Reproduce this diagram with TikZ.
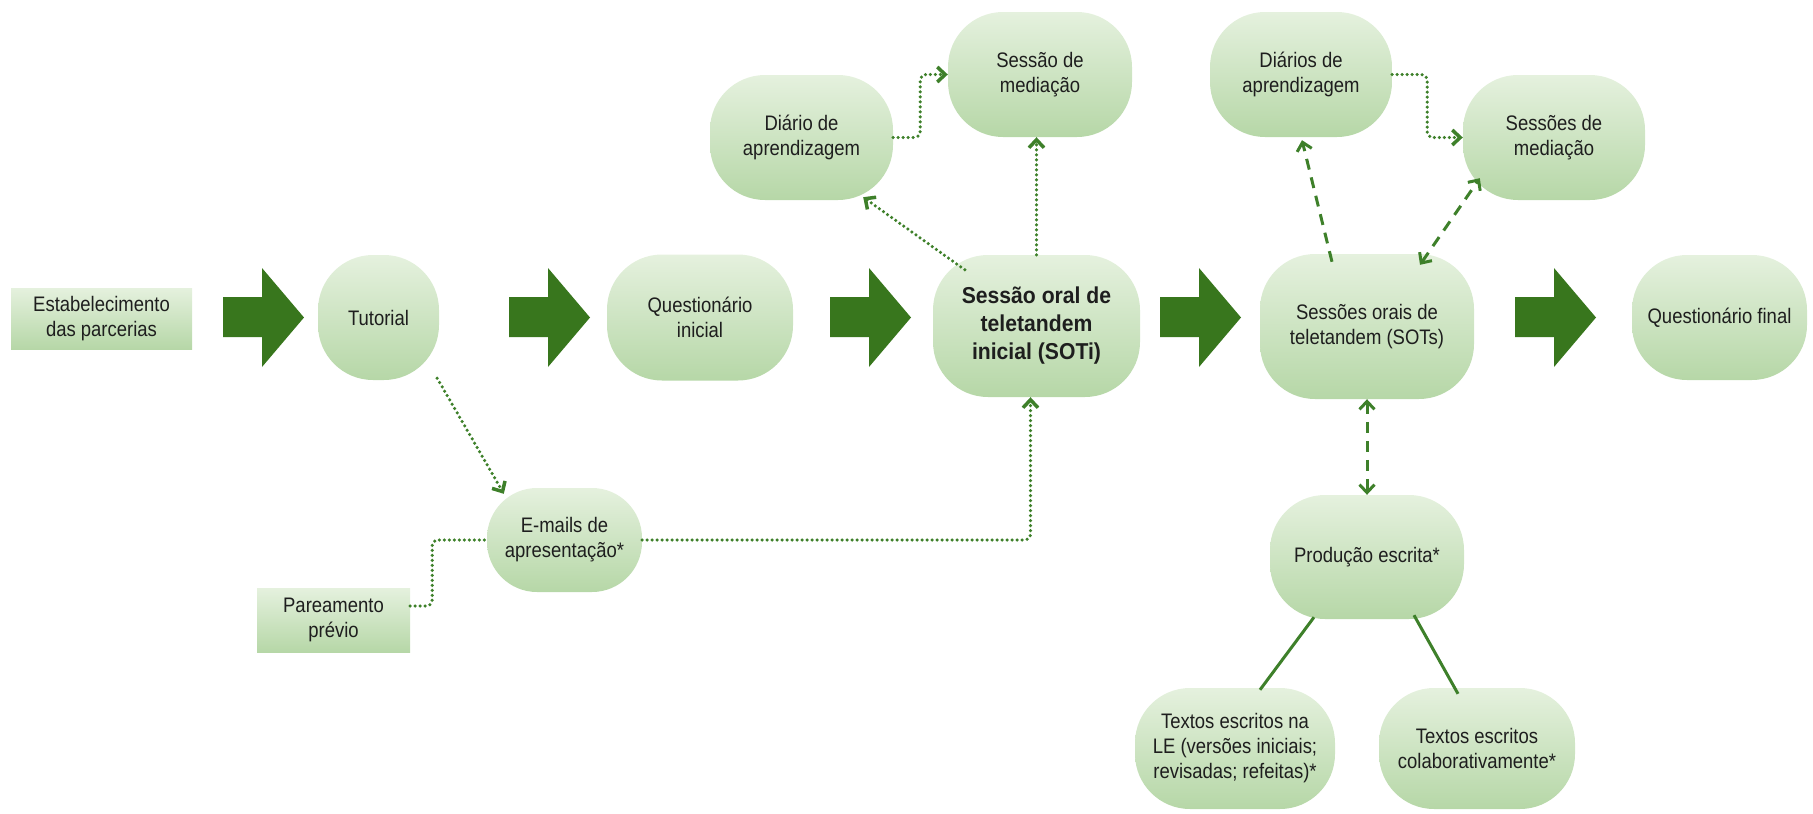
\documentclass[tikz,border=0pt]{standalone}
\usepackage{fontspec}
\setmainfont{Liberation Sans}[FakeStretch=0.88]
\newfontfamily\boldfam{Liberation Sans}[FakeStretch=0.92]
\usetikzlibrary{arrows.meta}
\definecolor{ntop}{RGB}{229,241,222}
\definecolor{nbot}{RGB}{182,215,167}
\definecolor{darrow}{RGB}{56,118,29}
\definecolor{conn}{RGB}{62,128,42}
\definecolor{txt}{RGB}{30,30,30}
\newcommand\blockarr[1]{\fill[darrow] (#1,297) -- (#1+39,297) -- (#1+39,268) -- (#1+81,317.5) -- (#1+39,367) -- (#1+39,337) -- (#1,337) -- cycle;}
\begin{document}
\begin{tikzpicture}[x=1pt,y=-1pt,
  every node/.style={font=\fontsize{21}{25}\selectfont, text=txt, align=center, inner sep=0pt},
  rn/.style n args={2}{top color=ntop, bottom color=nbot, rounded corners=55pt, minimum width=#1, minimum height=#2},
  bx/.style n args={2}{top color=ntop, bottom color=nbot, minimum width=#1, minimum height=#2},
  >={Straight Barb[length=8pt,width=15pt]},
  dotc/.style={draw=conn, line width=3.5pt, line cap=round, dash pattern=on 0pt off 5pt, rounded corners=6pt},
  dashc/.style={draw=conn, line width=3pt, dash pattern=on 11pt off 8pt},
  solidc/.style={draw=conn, line width=3pt}]
\useasboundingbox (0,0) rectangle (1813,814);

% main row
\node[bx={181}{61}] (estab) at (101.5,318.5) {Estabelecimento\\das parcerias};
\node[rn={121}{125}] (tutorial) at (378.5,317.5) {Tutorial};
\node[rn={186}{126}] (qinicial) at (700,317.5) {Questionário\\inicial};
\node[rn={207}{142}, font=\boldfam\fontsize{23}{28}\selectfont\bfseries] (soti) at (1036.5,326) {Sessão oral de\\teletandem\\inicial (SOTi)};
\node[rn={214}{145}] (sots) at (1367,326.5) {Sessões orais de\\teletandem (SOTs)};
\node[rn={175}{125}] (qfinal) at (1719.5,317.5) {Questionário final};

% top
\node[rn={183}{125}] (diario1) at (801.5,137.5) {Diário de\\aprendizagem};
\node[rn={184}{125}] (sessao1) at (1040,74.5) {Sessão de\\mediação};
\node[rn={182}{125}] (diarios2) at (1301,74.5) {Diários de\\aprendizagem};
\node[rn={182}{125}] (sessoes2) at (1554,137.5) {Sessões de\\mediação};

% bottom
\node[rn={155}{104}, rounded corners=50pt] (emails) at (564.5,540) {E-mails de\\apresentação*};
\node[bx={153}{64}] (pareamento) at (333.5,620) {Pareamento\\prévio};
\node[rn={194}{124}] (producao) at (1367,557) {Produção escrita*};
\node[rn={200}{121}] (textosLE) at (1235,748.5) {Textos escritos na\\LE (versões iniciais;\\revisadas; refeitas)*};
\node[rn={196}{121}] (textosColab) at (1477,748.5) {Textos escritos\\colaborativamente*};

% block arrows
\blockarr{223}
\blockarr{509}
\blockarr{830}
\blockarr{1160}
\blockarr{1515}

% dotted connectors
\draw[dotc,->] ([shift={(-2,-2)}]tutorial.south east) -- ([shift={(17,6)}]emails.north west);
\draw[dotc] ([shift={(0,-14)}]pareamento.east) -- ++(22,0) |- (emails.west);
\draw[dotc,->] (emails.east) -| ([shift={(-6,0)}]soti.south);
\draw[dotc,->] ([shift={(32,15)}]soti.north west) -- ([shift={(-30,-3)}]diario1.south east);
\draw[dotc,->] (soti.north) -- (soti.north |- sessao1.south);
\draw[dotc,->] (diario1.east) -- ++(27,0) |- (sessao1.west);
\draw[dotc,->] (diarios2.east) -- ++(35,0) |- (sessoes2.west);

% dashed connectors
\draw[dashc,->] ([shift={(-35,8)}]sots.north) -- ([shift={(1,3)}]diarios2.south);
\draw[dashc,<->] ([shift={(53,11)}]sots.north) -- ([shift={(17,-22)}]sessoes2.south west);
\draw[dashc,<->] (sots.south) -- (producao.north);

% solid connectors
\draw[solidc] ([shift={(-53,-2)}]producao.south) -- ([shift={(25,2)}]textosLE.north);
\draw[solidc] ([shift={(47,-4)}]producao.south) -- ([shift={(-19,6)}]textosColab.north);
\end{tikzpicture}
\end{document}
